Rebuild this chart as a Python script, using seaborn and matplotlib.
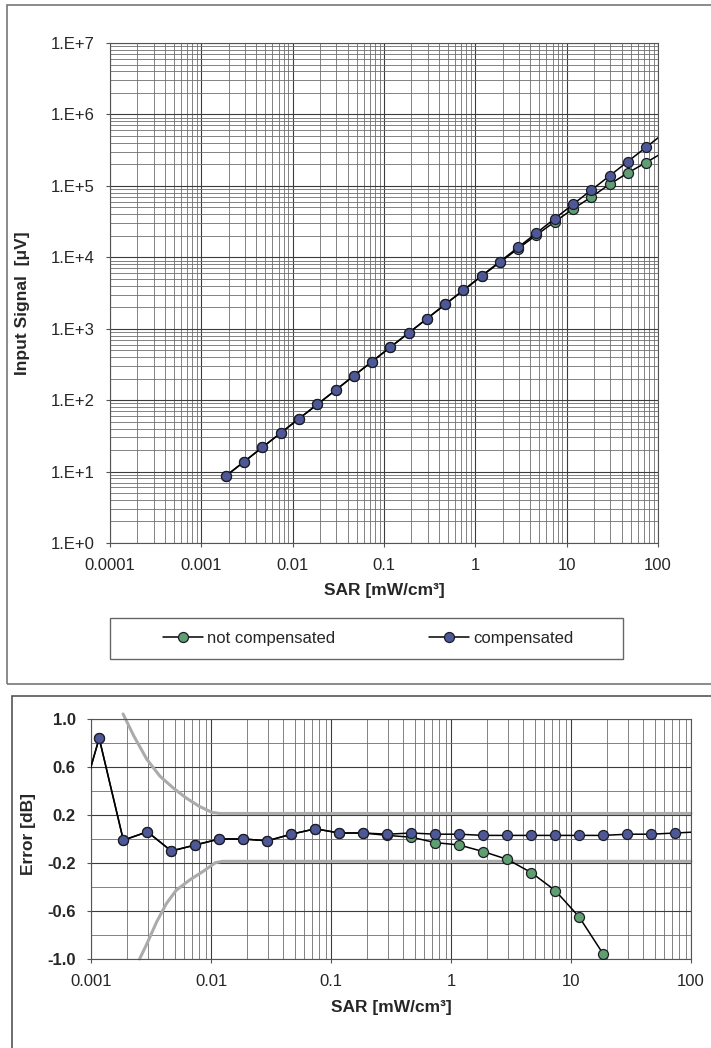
import numpy as np
import matplotlib
matplotlib.use("Agg")
import matplotlib.pyplot as plt
from matplotlib.lines import Line2D
from matplotlib.patches import Rectangle
from matplotlib.ticker import LogLocator, NullFormatter, FixedLocator
import seaborn as sns

# ---------------- data ----------------
# top chart: input signal vs SAR
sar_top = [0.00186, 0.00295, 0.00467, 0.0074, 0.0117, 0.0186, 0.0295, 0.0467, 0.074,
           0.117, 0.186, 0.295, 0.467, 0.74, 1.17, 1.86, 2.95, 4.67, 7.4, 11.7,
           18.6, 29.5, 46.7, 74, 117]
signal_comp = [8.7, 13.8, 21.9, 34.7, 55, 87, 138, 219, 347, 550, 872, 1380, 2190, 3470,
               5500, 8720, 13800, 21900, 34700, 55000, 87200, 138000, 219000, 347000, 550000]
signal_nocomp = [8.7, 13.8, 21.9, 34.7, 55, 87, 138, 219, 347, 550, 872, 1380, 2190, 3440,
                 5440, 8510, 13270, 20540, 31440, 47360, 69800, 105000, 152000, 212000, 300000]

# bottom chart: error vs SAR
sar_err = [0.00074, 0.00117, 0.00186, 0.00295, 0.00467, 0.0074, 0.0117, 0.0186, 0.0295, 0.0467,
           0.074, 0.117, 0.186, 0.295, 0.467, 0.74, 1.17, 1.86, 2.95, 4.67, 7.4, 11.7,
           18.6, 29.5, 46.7, 74, 117]
err_comp = [0.15, 0.84, -0.01, 0.06, -0.10, -0.05, 0.0, 0.0, -0.015, 0.04,
            0.085, 0.05, 0.05, 0.04, 0.05, 0.04, 0.04, 0.03, 0.03, 0.03, 0.03, 0.03,
            0.03, 0.04, 0.04, 0.05, 0.06]
sar_err_nc = [0.00074, 0.00117, 0.00186, 0.00295, 0.00467, 0.0074, 0.0117, 0.0186, 0.0295, 0.0467,
              0.074, 0.117, 0.186, 0.295, 0.467, 0.74, 1.17, 1.86, 2.95, 4.67, 7.4, 11.7,
              18.6, 29.5]
err_nocomp = [0.15, 0.84, -0.01, 0.06, -0.10, -0.05, 0.0, 0.0, -0.015, 0.04,
              0.085, 0.05, 0.05, 0.03, 0.015, -0.03, -0.05, -0.105, -0.17, -0.28, -0.43, -0.65,
              -0.96, -1.40]

# tolerance limits (grey curves)
lim_up_x = [0.00185, 0.00227, 0.00292, 0.00375, 0.00482, 0.00619, 0.00795, 0.0102, 0.0117, 0.013, 100]
lim_up_y = [1.042, 0.86, 0.664, 0.524, 0.427, 0.343, 0.273, 0.222, 0.213, 0.213, 0.213]
lim_lo_x = [0.00254, 0.00292, 0.00352, 0.00425, 0.00513, 0.00661, 0.0085, 0.0109, 0.0125, 100]
lim_lo_y = [-1.0, -0.874, -0.692, -0.538, -0.427, -0.343, -0.273, -0.197, -0.186, -0.186]

top_xticks = [0.0001, 0.001, 0.01, 0.1, 1, 10, 100]
top_xlabels = ["0.0001", "0.001", "0.01", "0.1", "1", "10", "100"]
top_yticks = [1, 10, 100, 1e3, 1e4, 1e5, 1e6, 1e7]
top_ylabels = ["1.E+0", "1.E+1", "1.E+2", "1.E+3", "1.E+4", "1.E+5", "1.E+6", "1.E+7"]
bot_xticks = [0.001, 0.01, 0.1, 1, 10, 100]
bot_xlabels = ["0.001", "0.01", "0.1", "1", "10", "100"]
bot_yticks = [-1.0, -0.6, -0.2, 0.2, 0.6, 1.0]
bot_ylabels = ["-1.0", "-0.6", "-0.2", "0.2", "0.6", "1.0"]
bot_yminor = [-0.8, -0.4, 0.0, 0.4, 0.8]

series_names = ["not compensated", "compensated"]
green = "#5f9e70"
blue = "#4d5896"
edge = "#1c1c28"

# ---------------- style ----------------
sns.set_style("white")
plt.rcParams["font.family"] = ["Liberation Sans", "DejaVu Sans"]

W, H = 711, 1048
fig = plt.figure(figsize=(W / 100, H / 100), dpi=100)

def fx(px):
    return px / W

def fy(py):
    return 1 - py / H

major_grid = dict(color="#3c3c3c", lw=0.8)
minor_grid = dict(color="#6e6e6e", lw=0.6)

def style_log_x(ax):
    ax.xaxis.set_minor_locator(LogLocator(base=10, subs=np.arange(2, 10), numticks=20))
    ax.xaxis.set_minor_formatter(NullFormatter())

# ---------------- top chart ----------------
ax1 = fig.add_axes([fx(110), fy(543), fx(658) - fx(110), fy(43) - fy(543)])
ax1.set_xscale("log")
ax1.set_yscale("log")

line_kw = dict(color="black", lw=1.1, marker="o", markersize=7.2,
               markeredgewidth=0.9, markeredgecolor=edge, legend=False)
sns.lineplot(x=sar_top, y=signal_nocomp, ax=ax1, markerfacecolor=green, zorder=3, **line_kw)
sns.lineplot(x=sar_top, y=signal_comp, ax=ax1, markerfacecolor=blue, zorder=4, **line_kw)

ax1.set_xlim(0.0001, 100)
ax1.set_ylim(1, 1e7)
ax1.set_xticks(top_xticks, top_xlabels)
ax1.set_yticks(top_yticks, top_ylabels)
style_log_x(ax1)
ax1.yaxis.set_minor_locator(LogLocator(base=10, subs=np.arange(2, 10), numticks=20))
ax1.yaxis.set_minor_formatter(NullFormatter())
ax1.grid(True, which="major", **major_grid)
ax1.grid(True, which="minor", **minor_grid)
ax1.set_axisbelow(True)
ax1.tick_params(which="major", length=3, width=0.8, color="#555", labelsize=12, pad=8,
                direction="out", left=True, bottom=True)
ax1.tick_params(which="minor", length=0)
for s in ax1.spines.values():
    s.set_color("#555")
    s.set_linewidth(0.8)
ax1.set_xlabel("SAR [mW/cm³]", fontsize=12.5, fontweight="bold", labelpad=7)
ax1.set_ylabel("Input Signal  [μV]", fontsize=12.5, fontweight="bold")
ax1.yaxis.set_label_coords((30 - 110) / 548, 0.48)

# legend
handles = [Line2D([], [], color="black", lw=1.1, marker="o", markersize=7.2,
                  markerfacecolor=green, markeredgecolor=edge, markeredgewidth=0.9),
           Line2D([], [], color="black", lw=1.1, marker="o", markersize=7.2,
                  markerfacecolor=blue, markeredgecolor=edge, markeredgewidth=0.9)]
fig.legend(handles, series_names, loc="center", bbox_to_anchor=(fx(368), fy(638.5)),
           ncol=2, frameon=False, fontsize=12, handlelength=2.4, handletextpad=0.25,
           columnspacing=5.6)
fig.add_artist(Rectangle((fx(110), fy(659)), fx(623) - fx(110), fy(618) - fy(659),
                         transform=fig.transFigure, fill=False, ec="#666", lw=1.0))

# panel frames
fig.add_artist(Rectangle((fx(7), fy(684)), 1.0, fy(5) - fy(684),
                         transform=fig.transFigure, fill=False, ec="#777", lw=1.2))
fig.add_artist(Rectangle((fx(12), -0.02), 1.0, fy(696) + 0.02,
                         transform=fig.transFigure, fill=False, ec="#555", lw=1.2))

# ---------------- bottom chart ----------------
ax2 = fig.add_axes([fx(91), fy(959), fx(691) - fx(91), fy(719) - fy(959)])
ax2.set_xscale("log")

sns.lineplot(x=lim_up_x, y=lim_up_y, ax=ax2, color="#ababab", lw=2.2, zorder=2,
             clip_on=False, legend=False)
sns.lineplot(x=lim_lo_x, y=lim_lo_y, ax=ax2, color="#ababab", lw=2.2, zorder=2,
             clip_on=False, legend=False)
sns.lineplot(x=sar_err_nc, y=err_nocomp, ax=ax2, markerfacecolor=green, zorder=3, **line_kw)
sns.lineplot(x=sar_err, y=err_comp, ax=ax2, markerfacecolor=blue, zorder=4, **line_kw)

ax2.set_xlim(0.001, 100)
ax2.set_ylim(-1.0, 1.0)
ax2.set_xticks(bot_xticks, bot_xlabels)
ax2.set_yticks(bot_yticks, bot_ylabels)
ax2.yaxis.set_minor_locator(FixedLocator(bot_yminor))
style_log_x(ax2)
ax2.grid(True, which="major", **major_grid)
ax2.grid(True, which="minor", **minor_grid)
ax2.set_axisbelow(True)
ax2.tick_params(which="major", length=3, width=0.8, color="#555", labelsize=12, pad=8,
                direction="out", left=True, bottom=True)
ax2.tick_params(which="minor", length=0)
for lab in ax2.get_yticklabels():
    lab.set_fontweight("bold")
for s in ax2.spines.values():
    s.set_color("#555")
    s.set_linewidth(0.8)
ax2.set_xlabel("SAR [mW/cm³]", fontsize=12.5, fontweight="bold", labelpad=8)
ax2.set_ylabel("Error [dB]", fontsize=12.5, fontweight="bold")
ax2.yaxis.set_label_coords((36 - 91) / 600, 0.52)

fig.savefig("out.png", dpi=100, facecolor="white")
